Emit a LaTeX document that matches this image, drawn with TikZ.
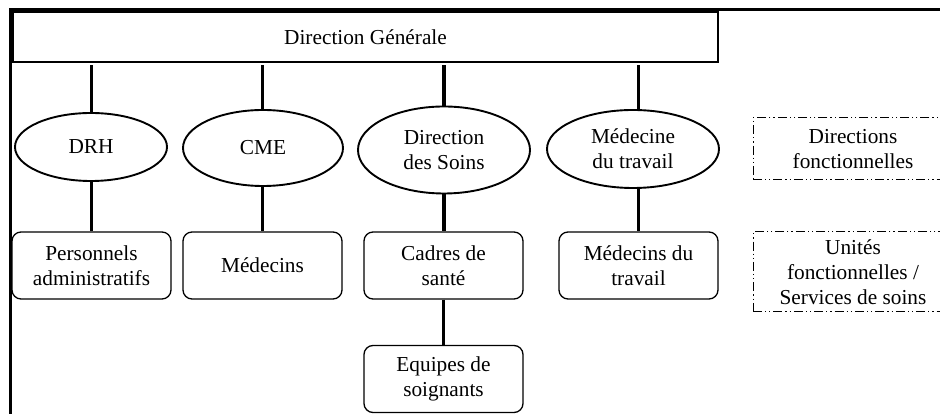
\documentclass[tikz,border=0pt]{standalone}
\usepackage{fontspec}
\setmainfont{Liberation Serif}
\usetikzlibrary{shapes.geometric}

\begin{document}
\begin{tikzpicture}[x=1pt,y=1pt,font=\fontsize{21.3}{25}\selectfont,
  dir/.style={ellipse,draw,line width=1.9pt,inner sep=0pt,align=center},
  unit/.style={draw,rounded corners=9pt,line width=1.3pt,minimum width=159pt,minimum height=67pt,align=center},
  legend/.style={draw,line width=1pt,dash pattern=on 9pt off 3pt on 1.2pt off 3pt on 1.2pt off 3pt,minimum width=200pt,align=center},
  link/.style={line width=3.8pt}]

\useasboundingbox (0,0) rectangle (940,414);
\draw[line width=3pt] (10,0) -- (10,404) -- (940,404);

\node[draw,line width=1.1pt,minimum width=705pt,minimum height=50pt](dg) at (365.5,377){Direction G\'en\'erale};

%% directions
\node[dir,minimum width=152pt,minimum height=68pt](drh) at (91,267){DRH};
\node[dir,minimum width=160pt,minimum height=76pt](cme) at (263,266){CME};
\node[dir,minimum width=172pt,minimum height=87pt](soins) at (444,264){Direction\\des Soins};
\node[dir,minimum width=172pt,minimum height=78pt](med) at (633,265){M\'edecine\\du travail};

%% unites
\node[unit](pers) at (91.5,148.5){Personnels\\administratifs};
\node[unit](medc) at (262.5,148.5){M\'edecins};
\node[unit](cadres) at (443.5,148.5){Cadres de\\sant\'e};
\node[unit](medt) at (638.5,148.5){M\'edecins du\\travail};
\node[unit](equipes) at (443.5,35){Equipes de\\soignants};

%% legende
\node[legend,minimum height=62pt](lgdir) at (853,265){Directions\\fonctionnelles};
\node[legend,minimum height=80pt](lgunit) at (853,142){Unit\'es\\fonctionnelles /\\Services de soins};

\draw[link,shorten <=2.5pt](dg.south -| pers.north)--(drh.north -| pers.north);
\draw[link,shorten <=2.5pt](dg.south -| medc.north)--(cme.north -| medc.north);
\draw[link,shorten <=2.5pt](dg.south -| soins.north)--(soins.north);
\draw[link,shorten <=2.5pt](dg.south -| medt.north)--(med.north -| medt.north);

\draw[link](drh.south -| pers.north)--(pers.north);
\draw[link](cme.south -| medc.north)--(medc.north);
\draw[link](soins.south)--(cadres.north -| soins.south);
\draw[link](med.south -| medt.north)--(medt.north);
\draw[link](cadres.south)--(equipes.north);
\end{tikzpicture}
\end{document}
